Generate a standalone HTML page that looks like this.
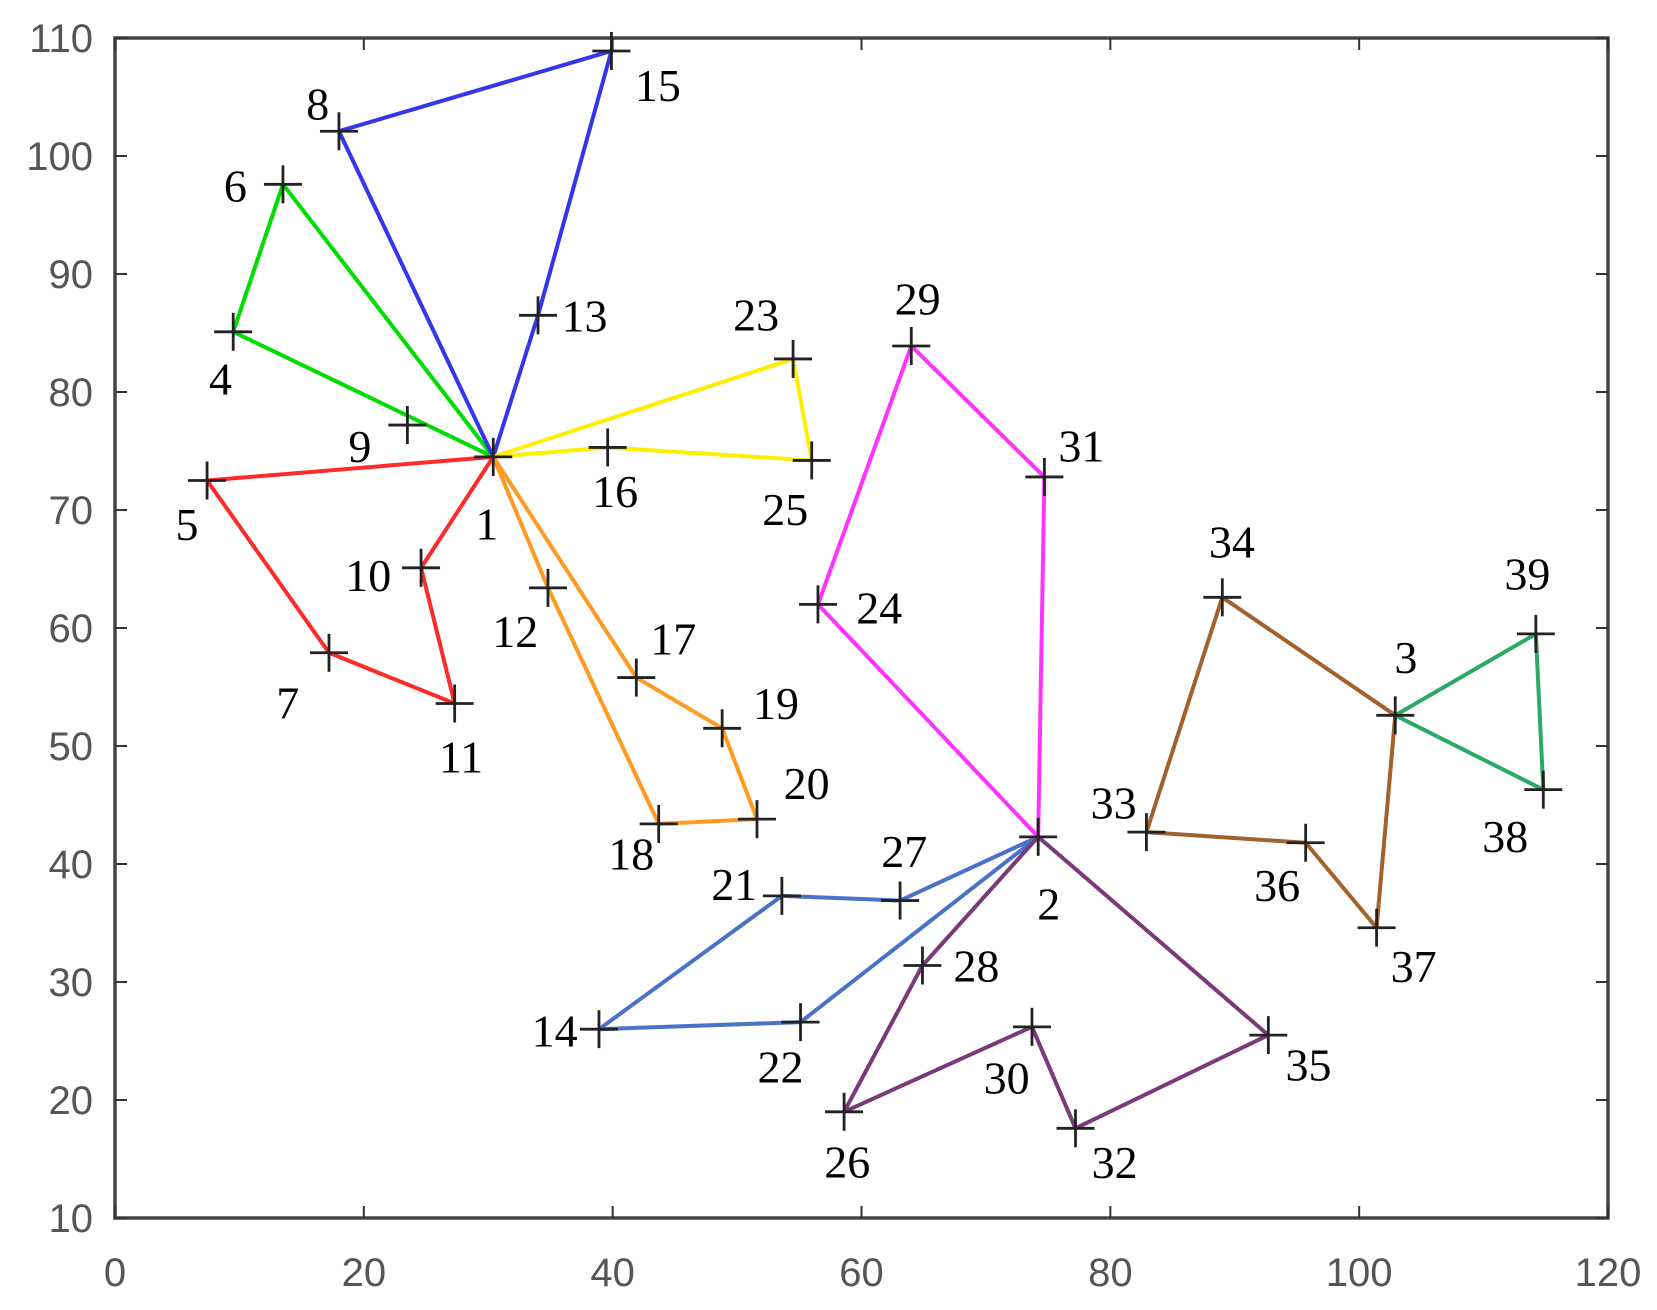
<!DOCTYPE html>
<html><head><meta charset="utf-8">
<style>
html,body{margin:0;padding:0;background:#fff;}
svg{display:block;}
.tick{font-family:"Liberation Sans",Arial,sans-serif;font-size:40px;fill:#555;}
.lbl{font-family:"Liberation Serif","Times New Roman",serif;font-size:46px;fill:#000;}
</style></head>
<body>
<svg id="chart" width="1657" height="1310" viewBox="0 0 1657 1310" xmlns="http://www.w3.org/2000/svg"></svg>
<script>
const xTicks=[0,20,40,60,80,100,120];
const yTicks=[10,20,30,40,50,60,70,80,90,100,110];
const nodeX=[30.4,74.2,102.9,9.5,7.4,13.5,17.2,18.0,23.5,24.6,27.3,34.8,34.0,38.9,39.9,39.6,41.9,43.7,48.8,51.6,53.6,55.1,54.5,56.5,56.0,58.6,63.1,64.9,64.0,73.7,74.7,77.2,82.9,89.0,92.7,95.7,101.4,114.8,114.2];
const nodeY=[74.5,42.3,52.6,85.1,72.5,97.6,57.9,102.1,77.2,65.1,53.6,63.4,86.5,26.0,108.9,75.3,55.8,43.4,51.5,43.8,37.3,26.6,82.8,62.0,74.2,19.0,36.9,31.4,83.9,26.2,72.8,17.6,42.7,62.6,25.5,41.8,34.6,46.3,59.5];
const routes=[[1,5,7,11,10,1],[1,4,6,1],[1,8,15,13,1],[1,23,25,16,1],[1,12,18,20,19,17,1],[2,24,29,31,2],[2,27,21,14,22,2],[2,28,26,30,32,35,2],[3,34,33,36,37,3],[3,39,38,3]];
const routeColors=['#ff2b2b','#00dd00','#3535ee','#ffee00','#ff9a22','#ff33ff','#4a72c8','#7a3a78','#a2622e','#2aaa66'];
const labelOff=[[-6,63],[10,63],[10,-55],[-12,44],[-19,41],[-45,1],[-39,47],[-20,-26],[-45,20],[-50,7],[6,50],[-31,41],[44,0],[-42,1],[44,32],[7,41],[35,-37],[-26,28],[51,-24],[47,-34],[-45,-11],[-19,42],[-35,-42],[58,3],[-25,46],[3,47],[4,-47],[51,0],[6,-45],[-24,48],[35,-30],[37,32],[-31,-28],[9,-53],[38,28],[-27,40],[35,36],[-36,44],[-8,-57]];

const L=115,R=1608,T=38,B=1218,xmin=0,xmax=120,ymin=10,ymax=110,S=1.057;
const sx=v=>L+(v-xmin)/(xmax-xmin)*(R-L);
const sy=v=>B-(v-ymin)/(ymax-ymin)*(B-T);
const svg=document.getElementById('chart');const NS='http://www.w3.org/2000/svg';
function mk(t,a,p){const e=document.createElementNS(NS,t);for(const k in a)e.setAttribute(k,a[k]);(p||svg).appendChild(e);return e;}

const frame=mk('rect',{x:L,y:T,width:R-L,height:B-T,fill:'none',stroke:'#444','stroke-width':3.5});


xTicks.forEach(v=>{
  const x=sx(v);
  mk('line',{x1:x,y1:B,x2:x,y2:B-12,stroke:'#333','stroke-width':2});
  mk('line',{x1:x,y1:T,x2:x,y2:T+12,stroke:'#333','stroke-width':2});
  const t=mk('text',{x:x,y:B+68,'text-anchor':'middle',class:'tick'});t.textContent=v;
  
  
});
yTicks.forEach(v=>{
  const y=sy(v);
  mk('line',{x1:L,y1:y,x2:L+12,y2:y,stroke:'#333','stroke-width':2});
  mk('line',{x1:R,y1:y,x2:R-12,y2:y,stroke:'#333','stroke-width':2});
  const t=mk('text',{x:L-22,y:y+14,'text-anchor':'end',class:'tick'});t.textContent=v;
  
  
});
routes.forEach((r,i)=>{
  const pts=r.map(n=>sx(nodeX[n-1])+','+sy(nodeY[n-1])).join(' ');
  const pl=mk('polyline',{points:pts,fill:'none',stroke:routeColors[i],'stroke-width':4,'stroke-linejoin':'round'});
  
  
});
nodeX.forEach((xv,i)=>{
  const x=sx(xv),y=sy(nodeY[i]);
  const g=mk('g',{});
  
  
  mk('line',{x1:x-19,y1:y,x2:x+19,y2:y,stroke:'#222','stroke-width':2.8},g);
  mk('line',{x1:x,y1:y-19,x2:x,y2:y+19,stroke:'#222','stroke-width':2.8},g);
  const t=mk('text',{x:x+labelOff[i][0]*S,y:y+labelOff[i][1]*S+16,'text-anchor':'middle',class:'lbl'},g);
  t.textContent=i+1;
  
  
});
</script>
</body></html>
